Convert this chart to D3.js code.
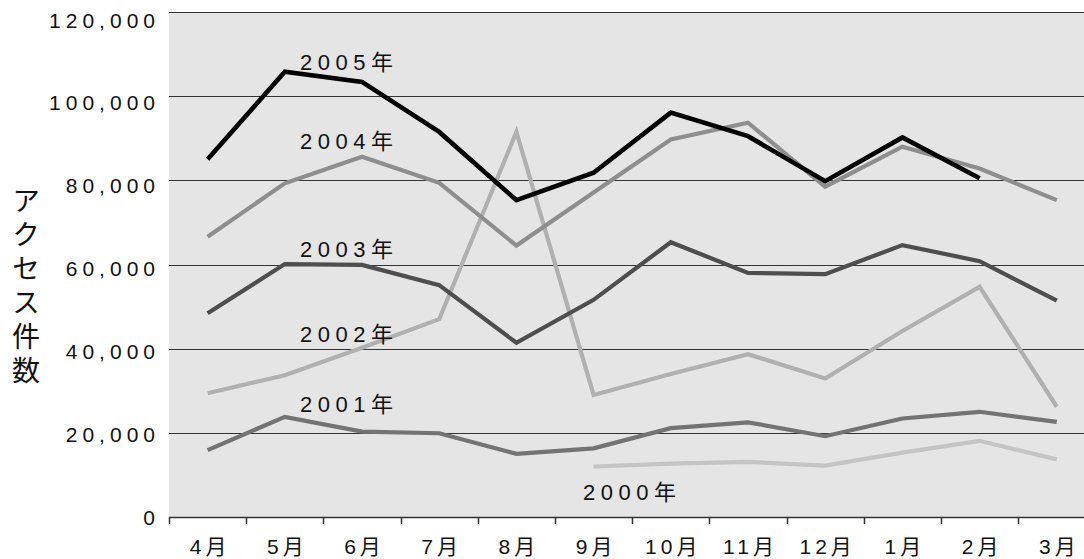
<!DOCTYPE html>
<html>
<head>
<meta charset="utf-8">
<script src="https://cdn.jsdelivr.net/npm/d3@7"></script>
<style>
  body { margin: 0; background: #fff; }
  svg { display: block; }
  text { font-family: "Liberation Sans", Arial, "Noto Sans CJK JP", sans-serif; fill: #111; }
</style>
</head>
<body>
<svg id="chart" width="1084" height="559"></svg>
<script>
// Monthly access counts by fiscal year (April - March)
const months = ["4月", "5月", "6月", "7月", "8月", "9月", "10月", "11月", "12月", "1月", "2月", "3月"];
const yTicks = [0, 20000, 40000, 60000, 80000, 100000, 120000];

const seriesNames = ["2000年", "2001年", "2002年", "2003年", "2004年", "2005年"];
const v2000 = [null, null, null, null, null, 12000, 12700, 13100, 12200, 15300, 18100, 13700];
const v2001 = [15900, 23800, 20300, 19900, 15000, 16300, 21100, 22500, 19200, 23400, 25000, 22600];
const v2002 = [29400, 33700, 40200, 47000, 91500, 29000, 34000, 38700, 32900, 44200, 54700, 26200];
const v2003 = [48400, 60100, 59900, 55100, 41400, 51600, 65300, 58000, 57700, 64600, 60800, 51400];
const v2004 = [66600, 79300, 85600, 79400, 64500, 77100, 89700, 93700, 78500, 88000, 82800, 75300];
const v2005 = [85000, 105800, 103400, 91500, 75300, 81800, 96100, 90500, 79800, 90200, 80500, null];
const seriesValues = [v2000, v2001, v2002, v2003, v2004, v2005];

// Styling for each year's line and its text label
const lineColors = ["#c4c4c4", "#737373", "#b0b0b0", "#4e4e4e", "#8e8e8e", "#000000"];
const labelSpots = [
  { x: 583, y: 500 },
  { x: 300, y: 411.5 },
  { x: 300, y: 341.5 },
  { x: 300, y: 256.5 },
  { x: 300, y: 148.5 },
  { x: 300, y: 70 }
];

const svg = d3.select("#chart");
const plotLeft = 169, plotTop = 12, plotBottom = 517, plotRight = 1084;

const x = d3.scaleBand().domain(months).range([plotLeft, plotLeft + 12 * 77.2]).padding(0);
const y = d3.scaleLinear().domain([0, 120000]).range([plotBottom, plotTop]);
// tick text sits on a slightly tighter spacing than the grid
const yText = d3.scaleLinear().domain([0, 120000]).range([517.5, 20]);
const cx = m => x(m) + x.bandwidth() / 2;

// plot background
svg.append("rect")
  .attr("x", plotLeft).attr("y", plotTop)
  .attr("width", plotRight - plotLeft).attr("height", plotBottom - plotTop)
  .attr("fill", "#e5e5e5");

// horizontal grid lines
svg.append("g").selectAll("line")
  .data(yTicks.filter(d => d > 0))
  .join("line")
  .attr("x1", plotLeft).attr("x2", plotRight)
  .attr("y1", d => Math.round(y(d)) + 0.5).attr("y2", d => Math.round(y(d)) + 0.5)
  .attr("stroke", "#333").attr("stroke-width", 1.2);

// bottom axis line with ticks at month boundaries
svg.append("line")
  .attr("x1", plotLeft).attr("x2", plotRight)
  .attr("y1", plotBottom + 0.5).attr("y2", plotBottom + 0.5)
  .attr("stroke", "#333").attr("stroke-width", 1.5);
svg.append("g").selectAll("line")
  .data(months)
  .join("line")
  .attr("x1", d => Math.round(x(d)) + 0.5).attr("x2", d => Math.round(x(d)) + 0.5)
  .attr("y1", plotBottom).attr("y2", plotBottom + 7)
  .attr("stroke", "#333").attr("stroke-width", 1.5);

// y tick labels
const fmt = d3.format(",");
svg.append("g").selectAll("text")
  .data(yTicks)
  .join("text")
  .attr("x", 160)
  .attr("y", d => yText(d))
  .attr("dy", "0.36em")
  .attr("text-anchor", "end")
  .style("font-size", "21px")
  .style("letter-spacing", "5px")
  .text(d => fmt(d));

// x tick labels
svg.append("g").selectAll("text")
  .data(months)
  .join("text")
  .attr("x", d => cx(d) + 2.5)
  .attr("y", 554)
  .attr("text-anchor", "middle")
  .style("font-size", "21px")
  .style("letter-spacing", "4px")
  .text(d => d);

// vertical axis title, set top to bottom
svg.append("text")
  .attr("x", 26)
  .attr("y", 186)
  .style("writing-mode", "vertical-rl")
  .style("font-family", "'Noto Sans CJK JP', sans-serif")
  .style("font-size", "28px")
  .style("letter-spacing", "6px")
  .text("アクセス件数");

// series lines
const line = d3.line()
  .defined(d => d.v != null)
  .x(d => cx(d.m))
  .y(d => y(d.v));

seriesValues.forEach((vals, i) => {
  const pts = months.map((m, j) => ({ m, v: vals[j] }));
  svg.append("path")
    .datum(pts)
    .attr("d", line)
    .attr("fill", "none")
    .attr("stroke", lineColors[i])
    .attr("stroke-width", i === 5 ? 4.6 : 4.2)
    .attr("stroke-linejoin", "miter");
});

// series labels
svg.append("g").selectAll("text")
  .data(seriesNames)
  .join("text")
  .attr("x", (d, i) => labelSpots[i].x)
  .attr("y", (d, i) => labelSpots[i].y)
  .style("font-size", "22px")
  .style("letter-spacing", "5.5px")
  .text(d => d);
</script>
</body>
</html>
